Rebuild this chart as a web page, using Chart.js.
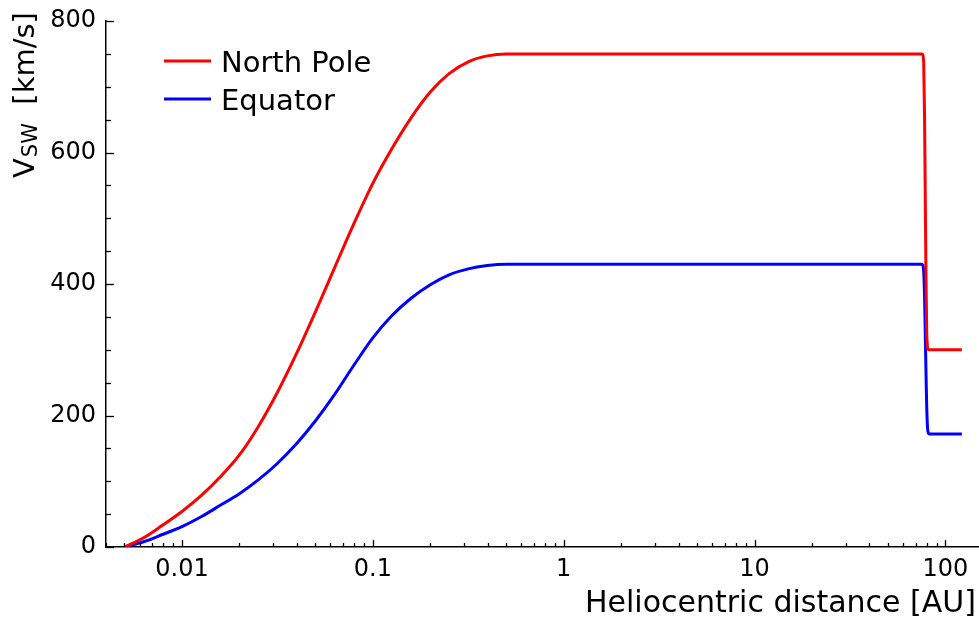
<!DOCTYPE html>
<html><head><meta charset="utf-8">
<script src="https://cdn.jsdelivr.net/npm/chart.js@4.4.1/dist/chart.umd.min.js"></script>
<style>html,body{margin:0;padding:0;background:#fff;overflow:hidden}canvas{display:block}</style>
</head><body>
<canvas id="c" width="979" height="619"></canvas>
<script>
// ---- data ----
const distanceAU = [0.005, 0.0063, 0.0079, 0.01, 0.0126, 0.0158, 0.02, 0.0251, 0.0316, 0.0398, 0.0501, 0.0631, 0.0794, 0.1, 0.126, 0.158, 0.2, 0.251, 0.316, 0.398, 0.501, 0.631, 1, 10, 75, 76, 77, 77.8, 78.5, 79.2, 79.8, 80.5, 81.5, 83, 122];
const northPole  = [0, 14, 33, 54, 78, 106, 140, 183, 235, 294, 358, 425, 491, 553, 606, 652, 692, 720, 738, 747, 750, 750, 750, 750, 750, 749, 735, 650, 520, 400, 330, 305, 300, 300, 300];
const equator    = [0, 8, 19, 31, 46, 63, 81, 102, 127, 157, 192, 232, 276, 318, 352, 378, 399, 414, 423, 428, 430, 430, 430, 430, 430, 429, 418, 380, 320, 260, 215, 185, 173, 172, 172];
const seriesLabels = ['North Pole', 'Equator'];
const seriesColors = ['#ff0000', '#0000ff'];
const xTickValues = [0.01, 0.1, 1, 10, 100];
const xTickLabels = ['0.01', '0.1', '1', '10', '100'];
const yTickValues = [0, 200, 400, 600, 800];
const yTickLabels = ['0', '200', '400', '600', '800'];
const xTitle = 'Heliocentric distance [AU]';
const yTitleMain = 'V', yTitleSub = 'SW', yTitleUnit = '  [km/s]';

const FONT = 'DejaVu Sans';

const toPoints = ys => distanceAU.map((x, i) => ({x: x, y: ys[i]}));

const decorPlugin = {
  id: 'decor',
  afterDatasetsDraw(chart) {
    const ctx = chart.ctx;
    const xs = chart.scales.x, ys = chart.scales.y;
    const area = chart.chartArea;
    ctx.save();
    ctx.strokeStyle = '#000';
    ctx.lineWidth = 1.3;
    for (let d = -3; d <= 2; d++) {
      for (let m = 1; m <= 9; m++) {
        const v = m * Math.pow(10, d);
        if (v < xs.min || v > xs.max) continue;
        const px = Math.round(xs.getPixelForValue(v)) + 0.5;
        const len = m === 1 ? 7 : 4;
        ctx.beginPath();
        ctx.moveTo(px, area.bottom);
        ctx.lineTo(px, area.bottom - len);
        ctx.stroke();
      }
    }
    for (let v = 0; v <= 800; v += 50) {
      const py = Math.round(ys.getPixelForValue(v)) + 0.5;
      const len = (v % 200 === 0) ? 8 : 5;
      ctx.beginPath();
      ctx.moveTo(area.left, py);
      ctx.lineTo(area.left + len, py);
      ctx.stroke();
    }
    ctx.restore();
  },
  afterDraw(chart) {
    const ctx = chart.ctx;
    ctx.save();
    ctx.fillStyle = '#000';
    ctx.font = '30px "' + FONT + '"';
    ctx.textAlign = 'right';
    ctx.textBaseline = 'alphabetic';
    ctx.fillText(xTitle, 976, 612);
    ctx.translate(34, 178);
    ctx.rotate(-Math.PI / 2);
    ctx.textAlign = 'left';
    ctx.font = '29px "' + FONT + '"';
    ctx.fillText(yTitleMain, 0, 0);
    let w = ctx.measureText(yTitleMain).width;
    ctx.font = '21px "' + FONT + '"';
    ctx.fillText(yTitleSub, w + 1, 3);
    w += 1 + ctx.measureText(yTitleSub).width;
    ctx.font = '29px "' + FONT + '"';
    ctx.fillText(yTitleUnit, w, 0);
    ctx.restore();
    ctx.save();
    ctx.font = '29px "' + FONT + '"';
    ctx.textAlign = 'left';
    ctx.textBaseline = 'alphabetic';
    const ly = [61, 99];
    chart.data.datasets.forEach((ds, i) => {
      ctx.strokeStyle = ds.borderColor;
      ctx.lineWidth = 3;
      ctx.beginPath();
      ctx.moveTo(164, ly[i]);
      ctx.lineTo(211, ly[i]);
      ctx.stroke();
      ctx.fillStyle = '#000';
      ctx.fillText(ds.label, 221, ly[i] + 11);
    });
    ctx.restore();
  }
};

new Chart(document.getElementById('c'), {
  type: 'line',
  data: {
    datasets: [
      {label: seriesLabels[0], data: toPoints(northPole), borderColor: seriesColors[0], borderWidth: 3, pointRadius: 0, fill: false, cubicInterpolationMode: 'monotone'},
      {label: seriesLabels[1], data: toPoints(equator), borderColor: seriesColors[1], borderWidth: 3, pointRadius: 0, fill: false, cubicInterpolationMode: 'monotone'}
    ]
  },
  options: {
    responsive: false,
    animation: false,
    devicePixelRatio: 1,
    layout: {padding: {top: 21, left: 0, right: 0, bottom: 0}},
    plugins: {legend: {display: false}, tooltip: {enabled: false}, title: {display: false}},
    scales: {
      x: {
        type: 'logarithmic', min: 0.004, max: 150,
        afterBuildTicks: s => { s.ticks = xTickValues.map(v => ({value: v})); },
        afterFit: s => { s.height = 72; s.paddingLeft = 0; s.paddingRight = 0; },
        ticks: {
          autoSkip: false, maxRotation: 0, minRotation: 0, padding: 8, color: '#000',
          font: {family: FONT, size: 24},
          callback: (v, i) => xTickLabels[i]
        },
        grid: {display: false, drawTicks: false},
        border: {display: true, color: '#000', width: 1.5}
      },
      y: {
        type: 'linear', min: 0, max: 800,
        afterBuildTicks: s => { s.ticks = yTickValues.map(v => ({value: v})); },
        afterFit: s => { s.width = 106; s.paddingTop = 0; s.paddingBottom = 0; },
        ticks: {
          padding: 10, color: '#000',
          font: {family: FONT, size: 24},
          callback: (v, i) => yTickLabels[i]
        },
        grid: {display: false, drawTicks: false},
        border: {display: true, color: '#000', width: 1.5}
      }
    }
  },
  plugins: [decorPlugin]
});
</script>
</body></html>
